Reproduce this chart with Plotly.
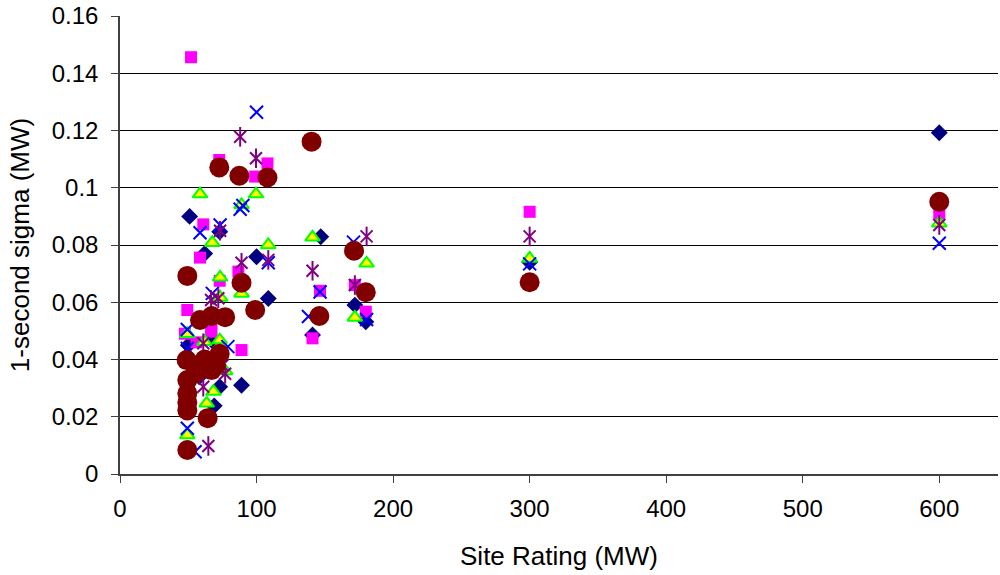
import plotly.graph_objects as go

# ---- data ----
diamond_x = [51, 62, 73, 100, 108.6, 67, 89, 73, 69, 147, 141, 172, 180, 300, 600, 50, 58]
diamond_y = [0.090, 0.077, 0.0846, 0.0759, 0.0613, 0.0468, 0.031, 0.0305, 0.0238, 0.0829, 0.0486, 0.059, 0.0532, 0.074, 0.1192, 0.045, 0.034]

square_x = [52, 72.7, 99, 108, 61, 58.6, 86.7, 73, 49.3, 67, 89, 47.5, 66.7, 141, 146.5, 172, 180, 300, 600, 56]
square_y = [0.1456, 0.1097, 0.1039, 0.1085, 0.0872, 0.0756, 0.0707, 0.0675, 0.0573, 0.0503, 0.0433, 0.049, 0.0497, 0.0474, 0.064, 0.066, 0.0567, 0.0916, 0.091, 0.046]

triangle_x = [58.6, 99.6, 89, 67.6, 108.6, 73.3, 89, 73.3, 49.3, 61.8, 73, 68.4, 63.5, 49.3, 77, 141, 180.6, 172, 300, 600]
triangle_y = [0.0978, 0.0978, 0.094, 0.0808, 0.080, 0.0687, 0.0631, 0.0617, 0.049, 0.0462, 0.0468, 0.0288, 0.0247, 0.0136, 0.036, 0.0827, 0.0736, 0.0547, 0.0753, 0.0876]

cross_x = [100, 88, 90, 58.6, 73.3, 108.6, 67.6, 79, 49.3, 49.3, 49.3, 55, 138, 146.5, 171, 180.6, 300, 600]
cross_y = [0.1264, 0.0925, 0.0938, 0.0843, 0.087, 0.0738, 0.0631, 0.0445, 0.0505, 0.0439, 0.016, 0.0078, 0.055, 0.0636, 0.081, 0.054, 0.0734, 0.0806]

star_x = [88, 99.6, 73.3, 89, 108.6, 72, 66.7, 61, 61, 77, 64.7, 141, 172, 180.6, 300, 600, 75]
star_y = [0.1178, 0.1103, 0.085, 0.0738, 0.0748, 0.0614, 0.0608, 0.0457, 0.0305, 0.035, 0.0098, 0.071, 0.066, 0.083, 0.083, 0.087, 0.038]

circle_x = [140.3, 72.7, 87.4, 108, 49.3, 89, 99, 58.6, 67.2, 77, 48.8, 73, 55, 67, 49.3, 49.3, 49.3, 49.3, 64.2, 49.3, 62, 70, 171.4, 146, 180, 300, 600]
circle_y = [0.1161, 0.1071, 0.1042, 0.1036, 0.0692, 0.0668, 0.0573, 0.0538, 0.0552, 0.0548, 0.0398, 0.042, 0.0352, 0.0363, 0.0328, 0.0282, 0.025, 0.0222, 0.0195, 0.0084, 0.040, 0.038, 0.078, 0.0552, 0.0635, 0.067, 0.0951]

x_ticks = [0, 100, 200, 300, 400, 500, 600]
y_ticks = [0, 0.02, 0.04, 0.06, 0.08, 0.1, 0.12, 0.14, 0.16]
y_tick_text = ["0", "0.02", "0.04", "0.06", "0.08", "0.1", "0.12", "0.14", "0.16"]

fig = go.Figure()

fig.add_trace(go.Scatter(x=diamond_x, y=diamond_y, mode="markers",
                         marker=dict(symbol="diamond", size=13, color="#000080",
                                     line=dict(width=0))))
fig.add_trace(go.Scatter(x=square_x, y=square_y, mode="markers",
                         marker=dict(symbol="square", size=12, color="#FF00FF",
                                     line=dict(width=0))))
fig.add_trace(go.Scatter(x=triangle_x, y=triangle_y, mode="markers",
                         marker=dict(symbol="triangle-up", size=13, color="#FFFF00",
                                     line=dict(width=2, color="#00FF00"))))
fig.add_trace(go.Scatter(x=cross_x, y=cross_y, mode="markers",
                         marker=dict(symbol="x-thin-open", size=13, color="#0000FF",
                                     line=dict(width=2, color="#0000FF"))))
fig.add_trace(go.Scatter(x=star_x, y=star_y, mode="markers",
                         marker=dict(symbol="x-thin-open", size=12, color="#800080",
                                     line=dict(width=2, color="#800080"))))
fig.add_trace(go.Scatter(x=star_x, y=star_y, mode="markers",
                         marker=dict(symbol="line-ns-open", size=14, color="#800080",
                                     line=dict(width=2, color="#800080"))))
fig.add_trace(go.Scatter(x=circle_x, y=circle_y, mode="markers",
                         marker=dict(symbol="circle", size=20, color="#800000",
                                     line=dict(width=0))))

font = "Liberation Sans, Arial, sans-serif"
fig.update_layout(
    width=1000, height=575,
    margin=dict(l=120, r=2, t=16, b=101),
    paper_bgcolor="white", plot_bgcolor="white",
    showlegend=False,
    font=dict(family=font, size=26, color="black"),
    xaxis=dict(range=[0, 643], tickvals=x_ticks, showgrid=False, zeroline=False,
               automargin=False,
               showline=True, linecolor="#404040", linewidth=1.5,
               ticks="outside", ticklen=7, tickcolor="#404040",
               tickfont=dict(size=24), ticklabelstandoff=5,
               title=dict(text="Site Rating (MW)", font=dict(size=26), standoff=26)),
    yaxis=dict(range=[0, 0.16], tickvals=y_ticks, ticktext=y_tick_text,
               showgrid=True, gridcolor="black", gridwidth=1, zeroline=False,
               automargin=False,
               showline=True, linecolor="#404040", linewidth=1.5,
               ticks="outside", ticklen=7, tickcolor="#404040",
               tickfont=dict(size=24), ticklabelstandoff=8,
               title=dict(text="1-second sigma (MW)", font=dict(size=26), standoff=15)),
)

fig.write_html("out.html", config={"displayModeBar": False},
               post_script="document.body.style.margin='0';")
